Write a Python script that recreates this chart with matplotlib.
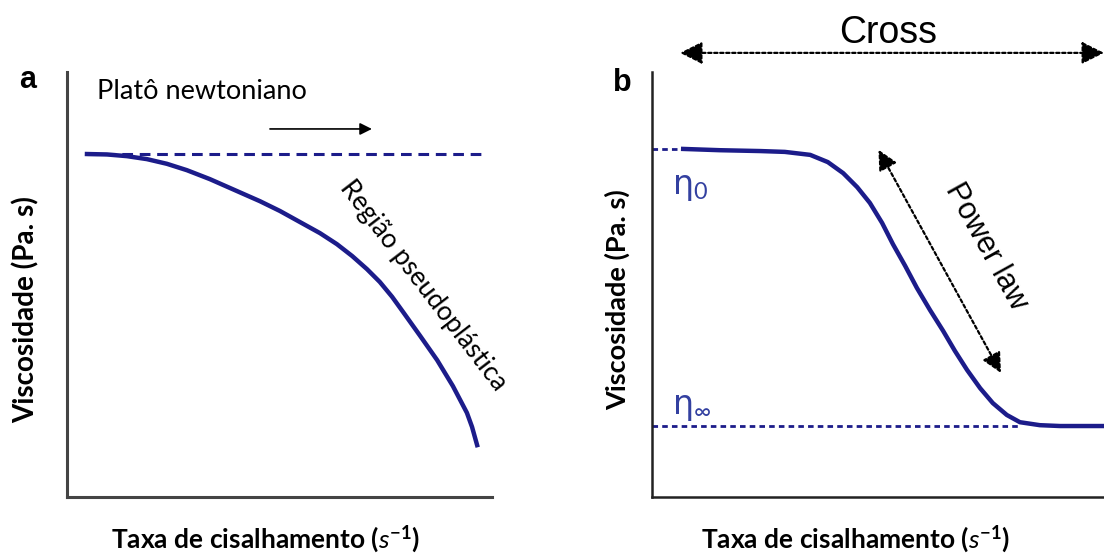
import matplotlib.pyplot as plt

plt.rcParams['font.family'] = ['Lato', 'DejaVu Sans']
plt.rcParams['mathtext.fontset'] = 'custom'
plt.rcParams['mathtext.rm'] = 'Lato'
plt.rcParams['mathtext.it'] = 'Lato:italic'
plt.rcParams['mathtext.bf'] = 'Lato:bold'

# curve values, in axis units (0-1)
# panel a: shear thinning from the newtonian plateau
a_x = [0.047, 0.094, 0.141, 0.188, 0.235, 0.282, 0.336, 0.395, 0.454, 0.501,
       0.548, 0.595, 0.635, 0.671, 0.706, 0.736, 0.765, 0.791, 0.831, 0.871,
       0.908, 0.941, 0.953, 0.965]
a_y = [0.807, 0.806, 0.802, 0.795, 0.784, 0.769, 0.748, 0.722, 0.696, 0.673,
       0.647, 0.621, 0.595, 0.567, 0.536, 0.506, 0.471, 0.435, 0.379, 0.322,
       0.261, 0.198, 0.165, 0.122]
a_plateau = 0.807
a_plateau_x = [0.047, 0.984]

# panel b: Cross model
b_x = [0.069, 0.150, 0.239, 0.294, 0.350, 0.389, 0.423, 0.454, 0.482, 0.509,
       0.533, 0.560, 0.586, 0.615, 0.644, 0.670, 0.697, 0.726, 0.754, 0.785,
       0.814, 0.858, 0.903, 1.0]
b_y = [0.819, 0.816, 0.814, 0.812, 0.805, 0.788, 0.762, 0.729, 0.692, 0.645,
       0.595, 0.544, 0.492, 0.440, 0.391, 0.344, 0.299, 0.256, 0.221, 0.193,
       0.176, 0.169, 0.167, 0.167]
eta0 = 0.819
eta_inf = 0.167

navy = '#1c1c8a'
eta_col = '#3340a0'
xlabel = r'Taxa de cisalhamento ($\mathit{s}^{\mathbf{-1}}$)'
ylabel = 'Viscosidade (Pa. s)'

fig = plt.figure(figsize=(11.04, 5.56), dpi=100)
ax1 = fig.add_axes([67/1104, 59/556, 425/1104, 425/556])
ax2 = fig.add_axes([652/1104, 59/556, 452/1104, 425/556])

for ax in (ax1, ax2):
    ax.set_xlim(0, 1)
    ax.set_ylim(0, 1)
    ax.set_xticks([])
    ax.set_yticks([])
    ax.spines['top'].set_visible(False)
    ax.spines['right'].set_visible(False)
    ax.set_xlabel(xlabel, fontsize=19, fontweight='bold')

ax1.set_ylabel(ylabel, fontsize=20, fontweight='bold')
ax2.set_ylabel(ylabel, fontsize=19.5, fontweight='bold')

for s in ('left', 'bottom'):
    ax1.spines[s].set_color('#444444')
    ax1.spines[s].set_linewidth(2.2)
    ax2.spines[s].set_color('#222222')
    ax2.spines[s].set_linewidth(1.8)

# ---- panel a
ax1.plot(a_plateau_x, [a_plateau, a_plateau], color=navy, lw=2.2, ls=(0, (3.5, 2.2)))
ax1.plot(a_x, a_y, color=navy, lw=3.2)
ax1.annotate('', xy=(0.724, 0.866), xytext=(0.471, 0.866),
             arrowprops=dict(arrowstyle='-|>', color='black', lw=1.2, mutation_scale=18))
ax1.text(0.071, 0.955, 'Platô newtoniano', fontsize=19.5, ha='left', va='center')
ax1.text(0.838, 0.497, 'Região pseudoplástica', fontsize=19, rotation=-52.5,
         ha='center', va='center', rotation_mode='anchor')
ax1.text(-0.092, 0.981, 'a', transform=ax1.transAxes, fontsize=22, fontweight='bold',
         ha='center', va='center', family='Liberation Sans')
ax1.xaxis.set_label_coords(0.468, -0.063)
ax1.yaxis.set_label_coords(-0.064, 0.44)

# ---- panel b
ax2.plot([0, 0.069], [eta0, eta0], color=navy, lw=2, ls=(0, (2, 1.5)))
ax2.plot([0, 0.814], [eta_inf, eta_inf], color=navy, lw=2, ls=(0, (2, 1.5)))
ax2.plot(b_x, b_y, color=navy, lw=3.2, clip_on=False)
ax2.text(0.044, 0.712, r'η$_0$', color=eta_col, fontsize=24, ha='left', va='baseline',
         family='DejaVu Sans')
ax2.text(0.044, 0.195, r'η$_\infty$', color=eta_col, fontsize=24, ha='left', va='baseline',
         family='DejaVu Sans')
ax2.annotate('', xy=(0.501, 0.817), xytext=(0.772, 0.292),
             arrowprops=dict(arrowstyle='<|-|>', color='black', lw=1.6, ls=(0, (1.5, 1.2)),
                             mutation_scale=30, shrinkA=0, shrinkB=0))
ax2.text(0.74, 0.59, 'Power law', fontsize=22, rotation=-61,
         ha='center', va='center', rotation_mode='anchor', family='Liberation Sans')
ax2.annotate('', xy=(0.062, 1.045), xytext=(1.0, 1.045), xycoords='axes fraction',
             arrowprops=dict(arrowstyle='<|-|>', color='black', lw=1.6, ls=(0, (1.5, 1.2)),
                             mutation_scale=34, shrinkA=0, shrinkB=0))
ax2.text(0.522, 1.092, 'Cross', transform=ax2.transAxes, fontsize=27,
         ha='center', va='center', family='Liberation Sans', clip_on=False)
ax2.text(-0.066, 0.974, 'b', transform=ax2.transAxes, fontsize=22, fontweight='bold',
         ha='center', va='center', family='Liberation Sans')
ax2.xaxis.set_label_coords(0.451, -0.063)
ax2.yaxis.set_label_coords(-0.049, 0.465)

fig.savefig('out.png', dpi=100)
